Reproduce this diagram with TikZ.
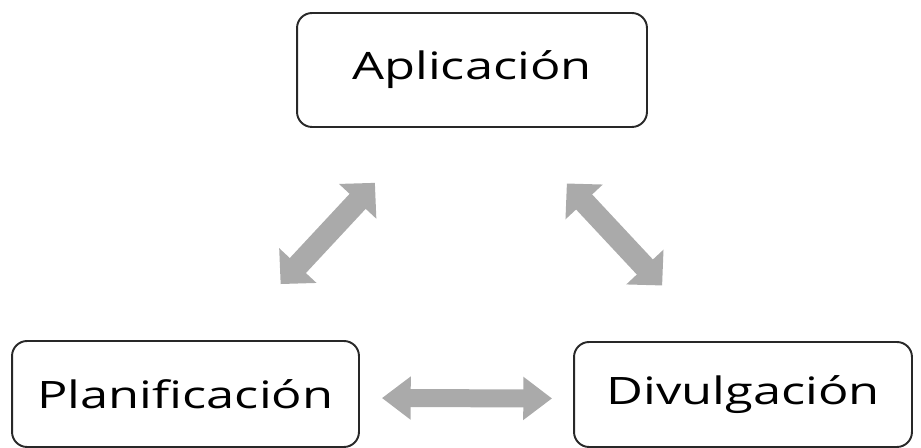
\documentclass[tikz,border=0pt]{standalone}
\usepackage{fontspec}
\usepackage{tikz}
\usetikzlibrary{arrows.meta}
\newfontfamily\boxfont{Open Sans}[FakeStretch=1.34]
\definecolor{arrowgray}{RGB}{170,170,170}
\definecolor{framegray}{RGB}{40,40,40}
\tikzset{
  stage/.style={draw=framegray, line width=1.1pt, rounded corners=0.3cm, inner sep=0pt,
    font=\boxfont\fontsize{21.5}{24}\selectfont},
  link/.style={draw=arrowgray, line width=0.36cm,
    {Triangle[width=0pt 2.3,length=0pt 1.6]}-{Triangle[width=0pt 2.3,length=0pt 1.6]}},
  slant link/.style={draw=arrowgray, line width=0.44cm,
    {Triangle[width=0pt 2.25,length=0pt 1.15]}-{Triangle[width=0pt 2.25,length=0pt 1.15]}}
}

\begin{document}
\begin{tikzpicture}[x=0.02cm,y=-0.02cm]
	\useasboundingbox (0,0) rectangle (921,448);
	\node[stage, minimum width=7cm, minimum height=2.28cm] (app) at (472,70) {Aplicación};
	\node[stage, minimum width=6.94cm, minimum height=2.12cm] (plan) at (185.5,394) {Planificación};
	\node[stage, minimum width=6.76cm, minimum height=2.1cm] (div) at (743,394.5) {Divulgación};
	\draw[slant link, shorten <=1.53cm, shorten >=1.5cm] ([xshift=0.86cm]plan.north) -- ([xshift=-0.92cm]app.south);
	\draw[slant link, shorten <=1.52cm, shorten >=1.52cm] ([xshift=0.86cm]app.south) -- ([xshift=-0.58cm]div.north);
	\draw[link, shorten <=0.44cm, shorten >=0.42cm] ([yshift=-0.08cm]plan.east) -- ([yshift=-0.08cm]div.west);
\end{tikzpicture}
\end{document}
